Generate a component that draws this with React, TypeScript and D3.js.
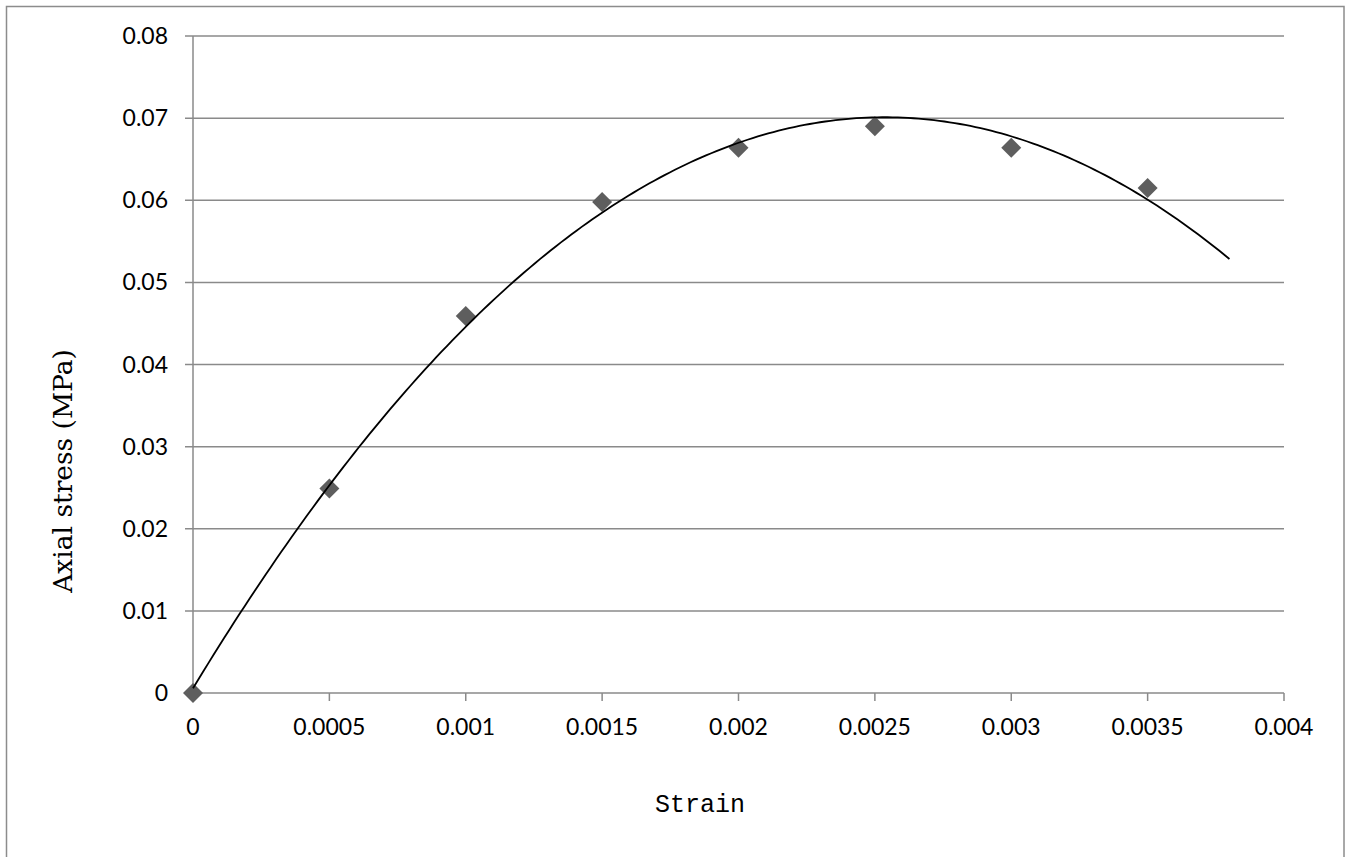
import React from 'react'
import * as d3 from 'd3'

// measured strain / axial stress pairs
const strain = [0, 0.0005, 0.001, 0.0015, 0.002, 0.0025, 0.003, 0.0035]
const stress = [0, 0.0249, 0.0459, 0.0598, 0.0664, 0.069, 0.0664, 0.0615]

const xTicks = [0, 0.0005, 0.001, 0.0015, 0.002, 0.0025, 0.003, 0.0035, 0.004]
const yTicks = [0, 0.01, 0.02, 0.03, 0.04, 0.05, 0.06, 0.07, 0.08]
const trendEnd = 0.0038

const W = 1348
const H = 857
const margin = {top: 36, right: 64, bottom: 164, left: 193}

// 2nd order least squares fit (like the spreadsheet trendline)
function polyFit(xs: number[], ys: number[]) {
  const s = [0, 0, 0, 0, 0]
  const t = [0, 0, 0]
  xs.forEach((x, i) => {
    for (let k = 0; k < 5; k++) s[k] += Math.pow(x, k)
    for (let k = 0; k < 3; k++) t[k] += ys[i] * Math.pow(x, k)
  })
  const m = [
    [s[0], s[1], s[2], t[0]],
    [s[1], s[2], s[3], t[1]],
    [s[2], s[3], s[4], t[2]]
  ]
  for (let i = 0; i < 3; i++) {
    for (let j = i + 1; j < 3; j++) {
      const f = m[j][i] / m[i][i]
      for (let k = i; k < 4; k++) m[j][k] -= f * m[i][k]
    }
  }
  const c = [0, 0, 0]
  for (let i = 2; i >= 0; i--) {
    let v = m[i][3]
    for (let k = i + 1; k < 3; k++) v -= m[i][k] * c[k]
    c[i] = v / m[i][i]
  }
  return (x: number) => c[0] + c[1] * x + c[2] * x * x
}

export default function App() {
  const x = d3
    .scaleLinear()
    .domain([0, 0.004])
    .range([margin.left, W - margin.right])
  const y = d3
    .scaleLinear()
    .domain([0, 0.08])
    .range([H - margin.bottom, margin.top])

  const fit = polyFit(strain, stress)
  const trendPts = d3.range(0, 201).map(i => (trendEnd * i) / 200)
  const line = d3
    .line<number>()
    .x(d => x(d))
    .y(d => y(fit(d)))

  const diamond = d3.symbol().type(d3.symbolSquare).size(200)()
  const grid = '#8a8a8a'
  const tickFont = 'Lato, "Open Sans", sans-serif'

  return (
    <svg
      width={W}
      height={H}
      style={{position: 'absolute', left: 0, top: 0, background: '#fff'}}
    >
      <rect x={6.5} y={6.5} width={1337.5} height={H + 20} fill="none" stroke="#8c8c8c" strokeWidth={1.5} />

      {yTicks.map(d => (
        <g key={'y' + d}>
          <line x1={x(0) - 8} x2={x(0.004)} y1={y(d)} y2={y(d)} stroke={grid} strokeWidth={1.5} />
          <text
            x={168}
            y={y(d)}
            dy="0.35em"
            textAnchor="end"
            fontFamily={tickFont}
            fontSize={23}
            fill="#000"
          >
            {+d.toFixed(2)}
          </text>
        </g>
      ))}

      <line x1={x(0)} x2={x(0)} y1={y(0.08)} y2={y(0)} stroke={grid} strokeWidth={1.5} />
      {xTicks.map(d => (
        <g key={'x' + d}>
          <line x1={x(d)} x2={x(d)} y1={y(0)} y2={y(0) + 8} stroke={grid} strokeWidth={1.5} />
          <text
            x={x(d)}
            y={727}
            dy="0.35em"
            textAnchor="middle"
            fontFamily={tickFont}
            fontSize={23}
            fill="#000"
          >
            {+d.toFixed(4)}
          </text>
        </g>
      ))}

      {strain.map((d, i) => (
        <path
          key={'p' + i}
          d={diamond || ''}
          transform={`translate(${x(d)},${y(stress[i])}) rotate(45)`}
          fill="#5e5e5e"
        />
      ))}

      <path d={line(trendPts) || ''} fill="none" stroke="#000" strokeWidth={1.8} />

      <text
        transform="translate(63,471) rotate(-90)"
        dy="0.35em"
        textAnchor="middle"
        fontFamily='"DejaVu Serif", serif'
        fontSize={26.5}
        fill="#000"
      >
        Axial stress (MPa)
      </text>
      <text
        x={700}
        y={803}
        dy="0.35em"
        textAnchor="middle"
        fontFamily='"Liberation Mono", monospace'
        fontSize={25}
        fill="#000"
      >
        Strain
      </text>
    </svg>
  )
}
